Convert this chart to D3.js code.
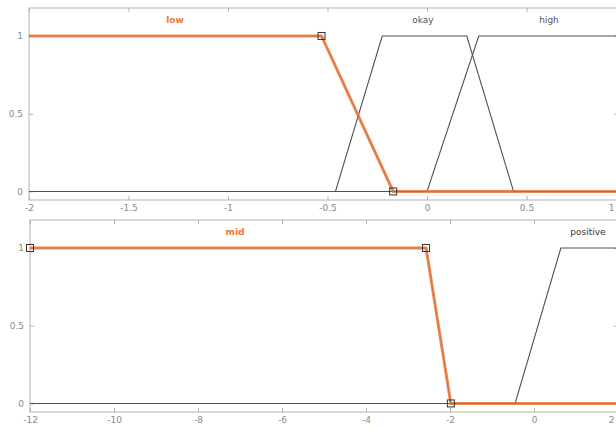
<!DOCTYPE html>
<html><head><meta charset="utf-8">
<script src="https://cdn.jsdelivr.net/npm/d3@7"></script>
<style>html,body{margin:0;padding:0;background:#fff;overflow:hidden}svg{display:block}</style>
</head><body>
<svg id="c" width="616" height="428"></svg>
<script>
// Top panel: input membership functions
const topDomain = [-2, 1];
const topTicks = [-2, -1.5, -1, -0.5, 0, 0.5, 1];
const lowX = [-2, -0.53, -0.17, 1];
const lowY = [1, 1, 0, 0];
const okayX = [-2, -0.46, -0.225, 0.2, 0.435, 1];
const okayY = [0, 0, 1, 1, 0, 0];
const highX = [-2, 0.0, 0.26, 1];
const highY = [0, 0, 1, 1];
const lowMarkersX = [-0.53, -0.17];
const lowMarkersY = [1, 0];

// Bottom panel
const botDomain = [-12, 2];
const botTicks = [-12, -10, -8, -6, -4, -2, 0, 2];
const midX = [-12, -2.57, -1.98, 2];
const midY = [1, 1, 0, 0];
const posX = [-12, -0.45, 0.64, 2];
const posY = [0, 0, 1, 1];
const midMarkersX = [-12, -2.57, -1.98];
const midMarkersY = [1, 1, 0];

const yTicks = [0, 0.5, 1];

const svg = d3.select("#c");
const ORANGE = "#e8783a", DARK = "#505050", BOX = "#b4b4b4", TXT = "#8a8a8a";
const W = 616;

function panel(cfg) {
  const x = d3.scaleLinear().domain(cfg.domain).range(cfg.xr);
  const y = d3.scaleLinear().domain([-0.055, 1.18]).range([cfg.bottom, cfg.top]);
  const g = svg.append("g");
  const x0 = cfg.xr[0] , x1 = cfg.boxRight;
  g.append("rect").attr("x", x0).attr("y", cfg.top).attr("width", x1 - x0).attr("height", cfg.bottom - cfg.top)
    .attr("fill", "#fff").attr("stroke", BOX).attr("stroke-width", 1);
  const xa = d3.axisBottom(x).tickValues(cfg.ticks).tickSize(-4).tickFormat(d => String(d));
  const gx = g.append("g").attr("transform", `translate(0,${cfg.bottom})`).call(xa);
  gx.select(".domain").remove();
  gx.selectAll("line").attr("stroke", BOX);
  gx.selectAll("text").attr("fill", TXT).attr("font-size", 9).attr("font-family", "DejaVu Sans").attr("dy", "0.9em")
    .each(function(d) {
      const w = this.getComputedTextLength();
      const px = x(d);
      if (px + w / 2 > W - 2) d3.select(this).attr("x", (W - 2 - w / 2) - px);
    });
  const gxt = g.append("g").attr("transform", `translate(0,${cfg.top})`).call(d3.axisTop(x).tickValues(cfg.ticks).tickSize(-4).tickFormat(""));
  gxt.select(".domain").remove();
  gxt.selectAll("line").attr("stroke", BOX);
  const gy = g.append("g").attr("transform", `translate(${x0},0)`).call(d3.axisLeft(y).tickValues(yTicks).tickSize(-4).tickFormat(d3.format("")));
  gy.select(".domain").remove();
  gy.selectAll("line").attr("stroke", BOX);
  gy.selectAll("text").attr("fill", TXT).attr("font-size", 9).attr("font-family", "DejaVu Sans").attr("dx", "-3");
  const gyr = g.append("g").attr("transform", `translate(${x1},0)`).call(d3.axisRight(y).tickValues(yTicks).tickSize(-4).tickFormat(""));
  gyr.select(".domain").remove();
  gyr.selectAll("line").attr("stroke", BOX);

  const line = d3.line().x(d => x(d[0])).y(d => y(d[1]));
  cfg.dark.forEach(s => {
    g.append("path").attr("d", line(d3.zip(s[0], s[1]))).attr("fill", "none").attr("stroke", DARK).attr("stroke-width", 1.1);
  });
  g.append("path").attr("d", line(d3.zip(cfg.hi[0], cfg.hi[1]))).attr("fill", "none")
    .attr("stroke", ORANGE).attr("stroke-width", 3).attr("stroke-opacity", 0.85);
  g.append("path").attr("d", line(d3.zip(cfg.hi[0], cfg.hi[1]))).attr("fill", "none")
    .attr("stroke", "#c0501e").attr("stroke-width", 0.8).attr("stroke-opacity", 0.5);
  g.selectAll("rect.m").data(d3.zip(cfg.markers[0], cfg.markers[1])).join("rect").attr("class", "m")
    .attr("x", d => x(d[0]) - 3.5).attr("y", d => y(d[1]) - 3.5).attr("width", 7).attr("height", 7)
    .attr("fill", "none").attr("stroke", "#333").attr("stroke-width", 1);
  cfg.labels.forEach(l => {
    g.append("text").attr("x", l.x).attr("y", cfg.top + 15).attr("text-anchor", "middle")
      .attr("font-family", "DejaVu Sans").attr("font-size", 9).attr("font-weight", l.bold ? "bold" : "normal")
      .attr("fill", l.color).text(l.text);
  });
}

panel({ domain: topDomain, ticks: topTicks, xr: [29, 626], boxRight: 618, top: 8, bottom: 200,
  dark: [[okayX, okayY], [highX, highY]], hi: [lowX, lowY], markers: [lowMarkersX, lowMarkersY],
  labels: [{ text: "low", x: 175, color: ORANGE, bold: true }, { text: "okay", x: 423, color: "#555" }, { text: "high", x: 549, color: "#555" }] });

panel({ domain: botDomain, ticks: botTicks, xr: [30, 618], boxRight: 618, top: 220, bottom: 412,
  dark: [[posX, posY]], hi: [midX, midY], markers: [midMarkersX, midMarkersY],
  labels: [{ text: "mid", x: 235, color: ORANGE, bold: true }, { text: "positive", x: 588, color: "#333" }] });
</script>
</body></html>
